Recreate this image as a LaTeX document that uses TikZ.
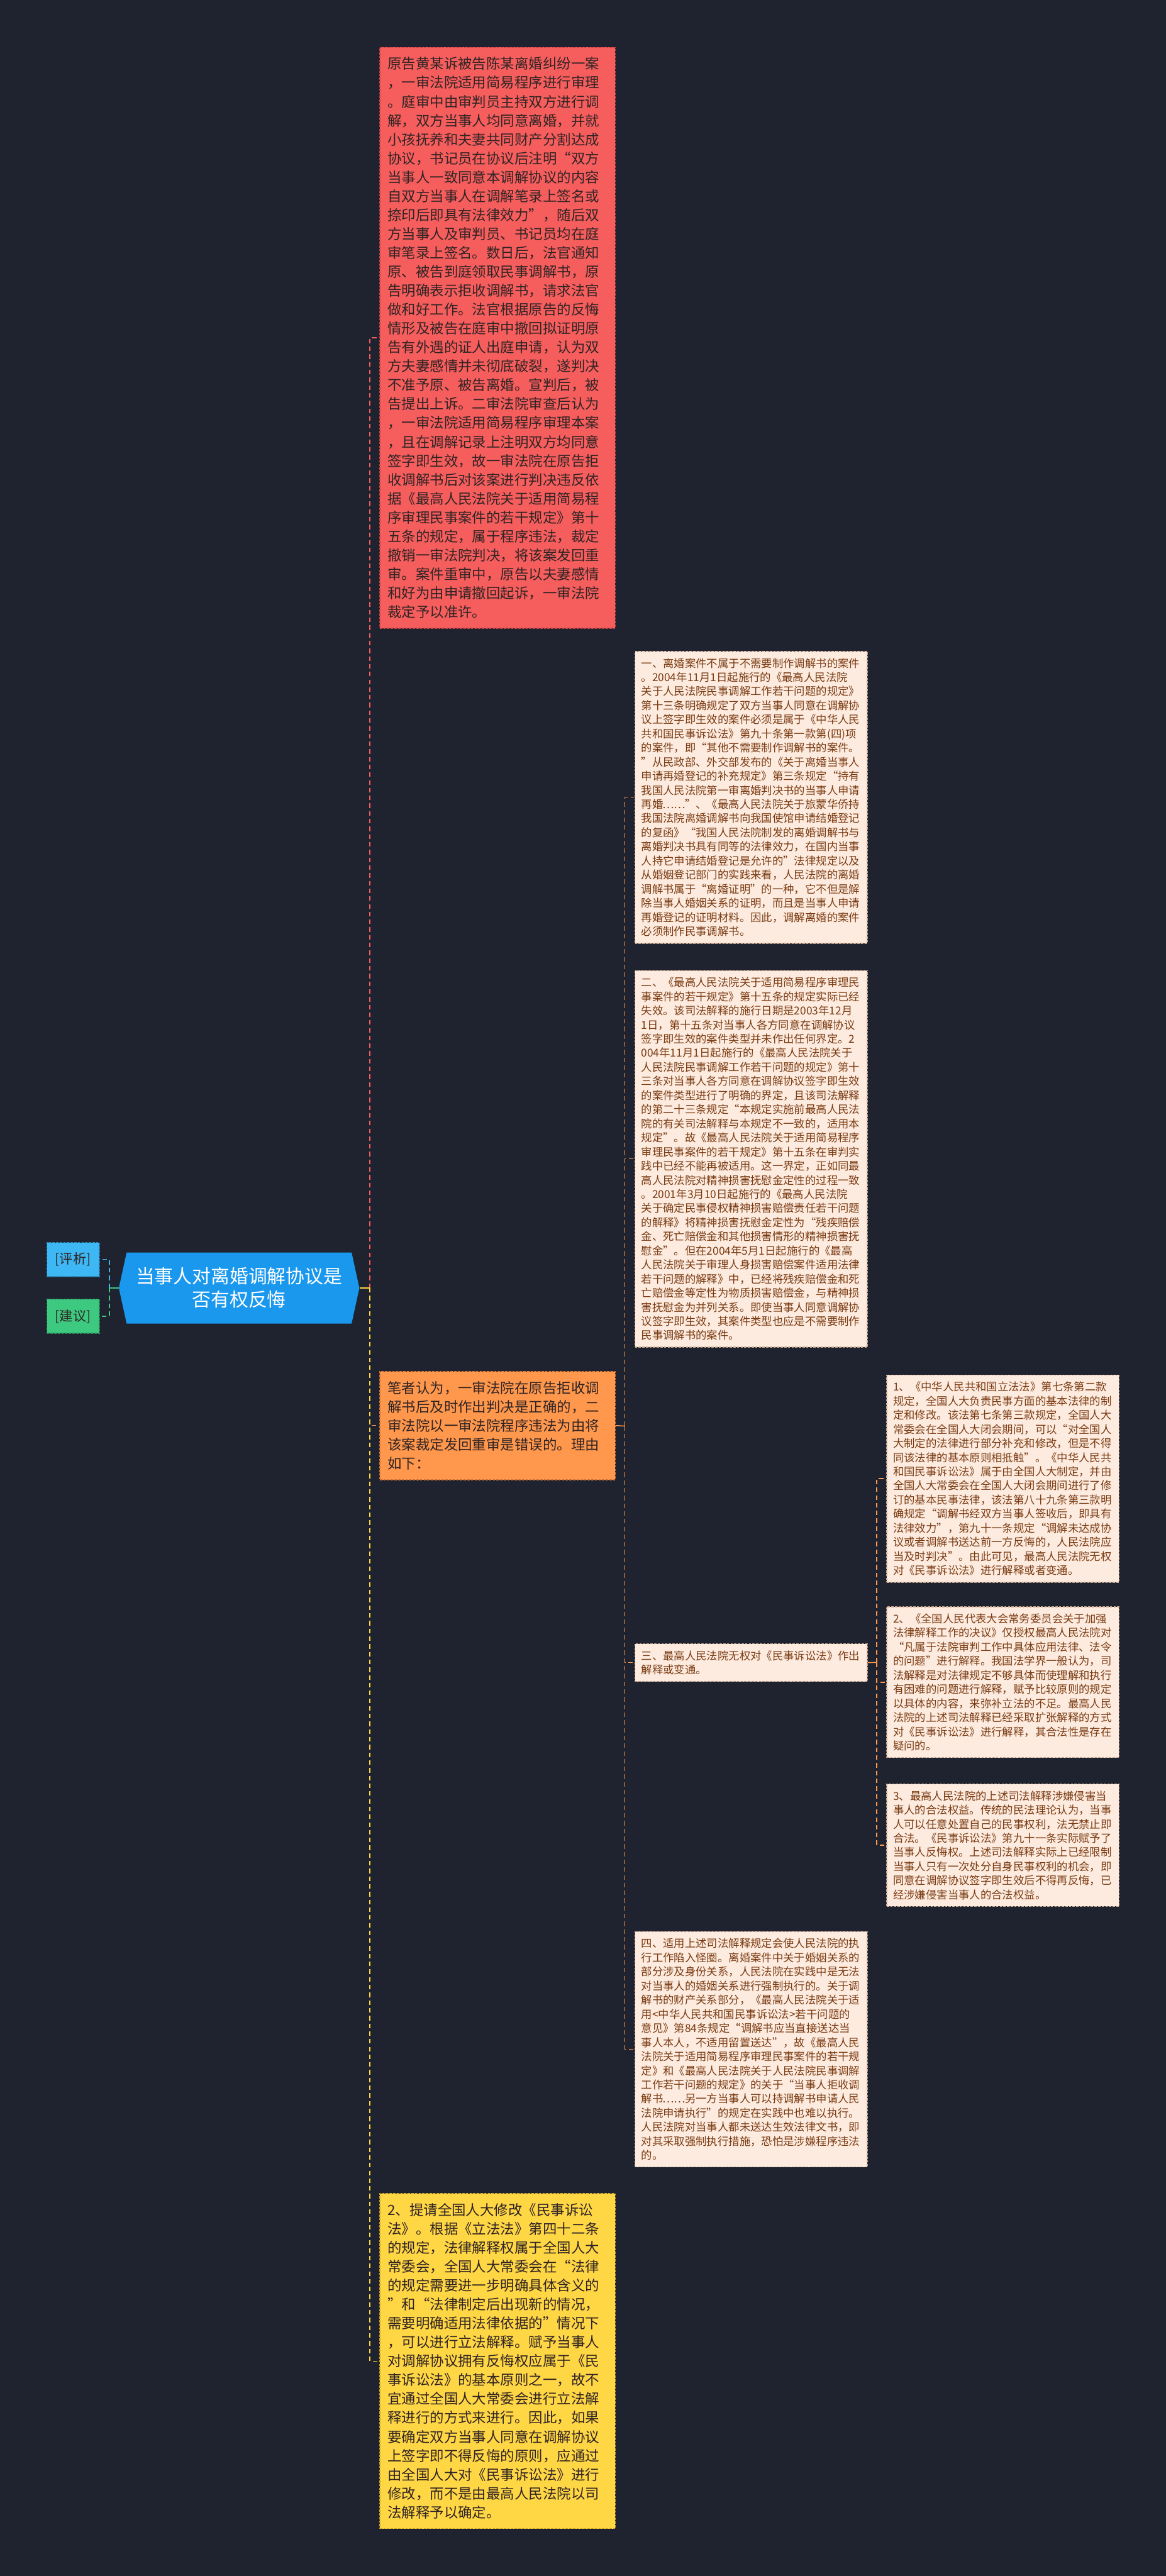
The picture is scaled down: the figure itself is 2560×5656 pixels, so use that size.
\documentclass[tikz,border=0pt]{standalone}
\usepackage{fontspec}
\setmainfont{Noto Sans CJK SC}
\definecolor{bgdark}{HTML}{1F2330}
\definecolor{rootblue}{HTML}{1A98EE}
\definecolor{redfill}{HTML}{F65D5D}
\definecolor{rededge}{HTML}{C94444}
\definecolor{orangefill}{HTML}{FF974C}
\definecolor{orangeedge}{HTML}{D07634}
\definecolor{yellowfill}{HTML}{FFD644}
\definecolor{yellowedge}{HTML}{C9A526}
\definecolor{creamfill}{HTML}{FDEBDF}
\definecolor{creamedge}{HTML}{C9A88E}
\definecolor{browntext}{HTML}{7A3B12}
\definecolor{darktext}{HTML}{302424}
\definecolor{tagblue}{HTML}{3DB8F5}
\definecolor{taggreen}{HTML}{3DC97F}
% full-width quotes and ellipsis
\newcommand{\oq}{\makebox[1em][r]{“}}
\newcommand{\cq}{\makebox[1em][l]{”}}
\newcommand{\ellip}{\makebox[2em]{……}}

\begin{document}
\begin{tikzpicture}[x=0.3pt,y=-0.3pt,
  conn/.style={line width=0.6pt, dash pattern=on 3pt off 2.1pt},
  bigbox/.style={anchor=north west, align=left, inner xsep=5.1pt, inner ysep=3pt,
    text width=144.9pt, line width=0.6pt, dash pattern=on 1.5pt off 0.9pt,
    text=darktext, font=\fontsize{9.3pt}{12.45pt}\selectfont},
  smallbox/.style={anchor=north west, align=left, inner xsep=4.2pt, inner ysep=3pt,
    text width=144.6pt, line width=0.6pt, dash pattern=on 1.5pt off 0.9pt,
    fill=creamfill, draw=creamedge, text=browntext,
    font=\fontsize{7.2pt}{9.3pt}\selectfont},
  tagbox/.style={minimum width=34.5pt, minimum height=22.5pt, inner sep=0pt,
    line width=0.6pt, dash pattern=on 1.5pt off 0.9pt, text=darktext,
    font=\fontsize{8.8pt}{10pt}\selectfont}]

  % canvas
  \useasboundingbox (0,0) rectangle (2560,5656);
  \fill[bgdark] (0,0) rectangle (2560,5656);

  % root
  \fill[rootblue] (261,2828) -- (278,2750) -- (772,2750) -- (789,2828)
    -- (772,2906) -- (278,2906) -- cycle;
  \node[minimum width=158.4pt, minimum height=46.8pt, inner sep=0pt, align=center,
    text=white, font=\fontsize{12.36pt}{15.3pt}\selectfont] (root) at (525,2828)
    {当事人对离婚调解协议是\\否有权反悔};

  % tags on the left
  \node[tagbox, fill=tagblue, draw=tagblue!70!black] (pingxi) at (160.5,2765.5) {[评析]};
  \node[tagbox, fill=taggreen, draw=taggreen!70!black] (jianyi) at (160.5,2890) {[建议]};

  % first column
  \node[bigbox, fill=redfill, draw=rededge, minimum height=382.65pt] (case) at (833,103)
    {原告黄某诉被告陈某离婚纠纷一案\\
     ，一审法院适用简易程序进行审理\\
     。庭审中由审判员主持双方进行调\\
     解，双方当事人均同意离婚，并就\\
     小孩抚养和夫妻共同财产分割达成\\
     协议，书记员在协议后注明\oq{}双方\\
     当事人一致同意本调解协议的内容\\
     自双方当事人在调解笔录上签名或\\
     捺印后即具有法律效力\cq{}，随后双\\
     方当事人及审判员、书记员均在庭\\
     审笔录上签名。数日后，法官通知\\
     原、被告到庭领取民事调解书，原\\
     告明确表示拒收调解书，请求法官\\
     做和好工作。法官根据原告的反悔\\
     情形及被告在庭审中撤回拟证明原\\
     告有外遇的证人出庭申请，认为双\\
     方夫妻感情并未彻底破裂，遂判决\\
     不准予原、被告离婚。宣判后，被\\
     告提出上诉。二审法院审查后认为\\
     ，一审法院适用简易程序审理本案\\
     ，且在调解记录上注明双方均同意\\
     签字即生效，故一审法院在原告拒\\
     收调解书后对该案进行判决违反依\\
     据《最高人民法院关于适用简易程\\
     序审理民事案件的若干规定》第十\\
     五条的规定，属于程序违法，裁定\\
     撤销一审法院判决，将该案发回重\\
     审。案件重审中，原告以夫妻感情\\
     和好为由申请撤回起诉，一审法院\\
     裁定予以准许。};

  \node[bigbox, fill=orangefill, draw=orangeedge, minimum height=71.4pt] (view) at (833,3010)
    {笔者认为，一审法院在原告拒收调\\
     解书后及时作出判决是正确的，二\\
     审法院以一审法院程序违法为由将\\
     该案裁定发回重审是错误的。理由\\
     如下：};

  \node[bigbox, fill=yellowfill, draw=yellowedge, minimum height=220.8pt] (advice) at (833,4815)
    {2、提请全国人大修改《民事诉讼\\
     法》。根据《立法法》第四十二条\\
     的规定，法律解释权属于全国人大\\
     常委会，全国人大常委会在\oq{}法律\\
     的规定需要进一步明确具体含义的\\
     \cq{}和\oq{}法律制定后出现新的情况，\\
     需要明确适用法律依据的\cq{}情况下\\
     ，可以进行立法解释。赋予当事人\\
     对调解协议拥有反悔权应属于《民\\
     事诉讼法》的基本原则之一，故不\\
     宜通过全国人大常委会进行立法解\\
     释进行的方式来进行。因此，如果\\
     要确定双方当事人同意在调解协议\\
     上签字即不得反悔的原则，应通过\\
     由全国人大对《民事诉讼法》进行\\
     修改，而不是由最高人民法院以司\\
     法解释予以确定。};

  % second column
  \node[smallbox, minimum height=192.3pt] (reasonA) at (1393,1429)
    {一、离婚案件不属于不需要制作调解书的案件\\
     。2004年11月1日起施行的《最高人民法院\\
     关于人民法院民事调解工作若干问题的规定》\\
     第十三条明确规定了双方当事人同意在调解协\\
     议上签字即生效的案件必须是属于《中华人民\\
     共和国民事诉讼法》第九十条第一款第(四)项\\
     的案件，即\oq{}其他不需要制作调解书的案件。\\
     \cq{}从民政部、外交部发布的《关于离婚当事人\\
     申请再婚登记的补充规定》第三条规定\oq{}持有\\
     我国人民法院第一审离婚判决书的当事人申请\\
     再婚\ellip{}\cq{}、《最高人民法院关于旅蒙华侨持\\
     我国法院离婚调解书向我国使馆申请结婚登记\\
     的复函》\oq{}我国人民法院制发的离婚调解书与\\
     离婚判决书具有同等的法律效力，在国内当事\\
     人持它申请结婚登记是允许的\cq{}法律规定以及\\
     从婚姻登记部门的实践来看，人民法院的离婚\\
     调解书属于\oq{}离婚证明\cq{}的一种，它不但是解\\
     除当事人婚姻关系的证明，而且是当事人申请\\
     再婚登记的证明材料。因此，调解离婚的案件\\
     必须制作民事调解书。};

  \node[smallbox, minimum height=248.1pt] (reasonB) at (1393,2130)
    {二、《最高人民法院关于适用简易程序审理民\\
     事案件的若干规定》第十五条的规定实际已经\\
     失效。该司法解释的施行日期是2003年12月\\
     1日，第十五条对当事人各方同意在调解协议\\
     签字即生效的案件类型并未作出任何界定。2\\
     004年11月1日起施行的《最高人民法院关于\\
     人民法院民事调解工作若干问题的规定》第十\\
     三条对当事人各方同意在调解协议签字即生效\\
     的案件类型进行了明确的界定，且该司法解释\\
     的第二十三条规定\oq{}本规定实施前最高人民法\\
     院的有关司法解释与本规定不一致的，适用本\\
     规定\cq{}。故《最高人民法院关于适用简易程序\\
     审理民事案件的若干规定》第十五条在审判实\\
     践中已经不能再被适用。这一界定，正如同最\\
     高人民法院对精神损害抚慰金定性的过程一致\\
     。2001年3月10日起施行的《最高人民法院\\
     关于确定民事侵权精神损害赔偿责任若干问题\\
     的解释》将精神损害抚慰金定性为\oq{}残疾赔偿\\
     金、死亡赔偿金和其他损害情形的精神损害抚\\
     慰金\cq{}。但在2004年5月1日起施行的《最高\\
     人民法院关于审理人身损害赔偿案件适用法律\\
     若干问题的解释》中，已经将残疾赔偿金和死\\
     亡赔偿金等定性为物质损害赔偿金，与精神损\\
     害抚慰金为并列关系。即使当事人同意调解协\\
     议签字即生效，其案件类型也应是不需要制作\\
     民事调解书的案件。};

  \node[smallbox, minimum height=24.9pt] (reasonC) at (1393,3608)
    {三、最高人民法院无权对《民事诉讼法》作出\\
     解释或变通。};

  \node[smallbox, minimum height=155.1pt] (reasonD) at (1393,4240)
    {四、适用上述司法解释规定会使人民法院的执\\
     行工作陷入怪圈。离婚案件中关于婚姻关系的\\
     部分涉及身份关系，人民法院在实践中是无法\\
     对当事人的婚姻关系进行强制执行的。关于调\\
     解书的财产关系部分，《最高人民法院关于适\\
     用<中华人民共和国民事诉讼法>若干问题的\\
     意见》第84条规定\oq{}调解书应当直接送达当\\
     事人本人，不适用留置送达\cq{}，故《最高人民\\
     法院关于适用简易程序审理民事案件的若干规\\
     定》和《最高人民法院关于人民法院民事调解\\
     工作若干问题的规定》的关于\oq{}当事人拒收调\\
     解书\ellip{}另一方当事人可以持调解书申请人民\\
     法院申请执行\cq{}的规定在实践中也难以执行。\\
     人民法院对当事人都未送达生效法律文书，即\\
     对其采取强制执行措施，恐怕是涉嫌程序违法\\
     的。};

  % third column
  \node[smallbox, minimum height=136.5pt] (lawA) at (1946,3018)
    {1、《中华人民共和国立法法》第七条第二款\\
     规定，全国人大负责民事方面的基本法律的制\\
     定和修改。该法第七条第三款规定，全国人大\\
     常委会在全国人大闭会期间，可以\oq{}对全国人\\
     大制定的法律进行部分补充和修改，但是不得\\
     同该法律的基本原则相抵触\cq{}。《中华人民共\\
     和国民事诉讼法》属于由全国人大制定，并由\\
     全国人大常委会在全国人大闭会期间进行了修\\
     订的基本民事法律，该法第八十九条第三款明\\
     确规定\oq{}调解书经双方当事人签收后，即具有\\
     法律效力\cq{}，第九十一条规定\oq{}调解未达成协\\
     议或者调解书送达前一方反悔的，人民法院应\\
     当及时判决\cq{}。由此可见，最高人民法院无权\\
     对《民事诉讼法》进行解释或者变通。};

  \node[smallbox, minimum height=99.3pt] (lawB) at (1946,3527)
    {2、《全国人民代表大会常务委员会关于加强\\
     法律解释工作的决议》仅授权最高人民法院对\\
     \oq{}凡属于法院审判工作中具体应用法律、法令\\
     的问题\cq{}进行解释。我国法学界一般认为，司\\
     法解释是对法律规定不够具体而使理解和执行\\
     有困难的问题进行解释，赋予比较原则的规定\\
     以具体的内容，来弥补立法的不足。最高人民\\
     法院的上述司法解释已经采取扩张解释的方式\\
     对《民事诉讼法》进行解释，其合法性是存在\\
     疑问的。};

  \node[smallbox, minimum height=80.7pt] (lawC) at (1946,3916)
    {3、最高人民法院的上述司法解释涉嫌侵害当\\
     事人的合法权益。传统的民法理论认为，当事\\
     人可以任意处置自己的民事权利，法无禁止即\\
     合法。《民事诉讼法》第九十一条实际赋予了\\
     当事人反悔权。上述司法解释实际上已经限制\\
     当事人只有一次处分自身民事权利的机会，即\\
     同意在调解协议签字即生效后不得再反悔，已\\
     经涉嫌侵害当事人的合法权益。};

  % connectors
  \coordinate (leftJ) at (240,2828);
  \coordinate (mainJ) at (812,2828);
  \coordinate (viewJ) at (1372,3131);
  \coordinate (lawJ) at (1925,3650);

  \draw[line width=0.6pt, taggreen] (root.west) -- (leftJ);
  \draw[conn, tagblue] (leftJ) |- (pingxi.east);
  \draw[conn, taggreen] (leftJ) |- (jianyi.east);

  \draw[conn, redfill] (mainJ) |- (case.west);
  \draw[conn, orangefill] (mainJ) |- (view.west);
  \draw[conn, yellowfill] (mainJ) |- (advice.west);
  \draw[line width=0.6pt, yellowfill] (root.east) -- (mainJ);

  \draw[line width=0.6pt, orangefill] (view.east) -- (viewJ);
  \draw[conn, orangefill] (viewJ) |- (reasonA.west);
  \draw[conn, orangefill] (viewJ) |- (reasonB.west);
  \draw[conn, orangefill] (viewJ) |- (reasonC.west);
  \draw[conn, orangefill] (viewJ) |- (reasonD.west);

  \draw[line width=0.6pt, orangefill] (reasonC.east) -- (lawJ);
  \draw[conn, orangefill] (lawJ) |- (lawA.west);
  \draw[conn, orangefill] (lawJ) |- (lawB.west);
  \draw[conn, orangefill] (lawJ) |- (lawC.west);

\end{tikzpicture}
\end{document}
